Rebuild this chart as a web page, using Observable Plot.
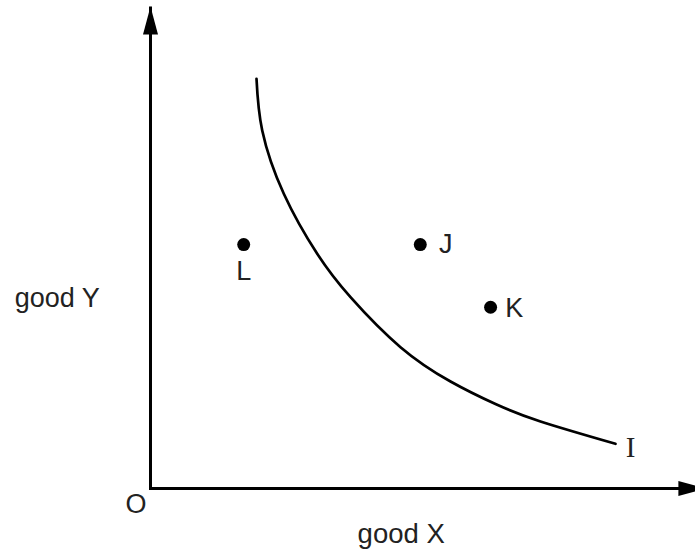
<!DOCTYPE html>
<html>
<head>
<meta charset="utf-8">
<script src="https://cdn.jsdelivr.net/npm/d3@7"></script>
<script src="https://cdn.jsdelivr.net/npm/@observablehq/plot@0.6"></script>
<style>
  html, body { margin: 0; padding: 0; background: #fff; }
  #chart svg { display: block; }
</style>
</head>
<body>
<div id="chart"></div>
<script>
// Indifference curve I (good X vs good Y)
const curveX = [1.945, 2.050, 2.446, 3.059, 3.670, 4.587, 5.505, 6.330, 7.156, 8.532];
const curveY = [8.500, 7.427, 6.114, 4.869, 3.969, 2.932, 2.220, 1.753, 1.390, 0.927];
const curveName = "I";

// Bundles
const pointNames = ["L", "J", "K"];
const pointX = [1.71, 4.95, 6.24];
const pointY = [5.06, 5.06, 3.76];

// Axis titles
const xTitle = "good X";
const yTitle = "good Y";
const originName = "O";
const xAxisEnd = 10.2;
const yAxisEnd = 10;

const curve = curveX.map((x, i) => ({x, y: curveY[i]}));
const points = pointNames.map((name, i) => ({name, x: pointX[i], y: pointY[i]}));

// filled slender arrowhead, tip at the anchor, pointing up
const arrowHead = {
  draw(context) {
    context.moveTo(0, 0);
    context.lineTo(-7.5, 28);
    context.lineTo(7.5, 28);
    context.closePath();
  }
};

const sans = "'Liberation Sans', Arial, Helvetica, sans-serif";
const ink = "#222";

const chart = Plot.plot({
  width: 695,
  height: 552,
  marginLeft: 150,
  marginRight: 0,
  marginTop: 6,
  marginBottom: 64,
  x: {domain: [0, 10], axis: null},
  y: {domain: [0, 10], axis: null},
  style: {fontFamily: sans, background: "#fff"},
  marks: [
    // axes
    Plot.link([{x1: 0, y1: 0, x2: 0, y2: yAxisEnd}], {x1: "x1", y1: "y1", x2: "x2", y2: "y2", stroke: "#000", strokeWidth: 3}),
    Plot.link([{x1: 0, y1: 0, x2: xAxisEnd, y2: 0}], {x1: "x1", y1: "y1", x2: "x2", y2: "y2", stroke: "#000", strokeWidth: 3, strokeLinecap: "square"}),
    Plot.dot([{x: 0, y: yAxisEnd}], {x: "x", y: "y", symbol: arrowHead, fill: "#000", stroke: null, rotate: 0}),
    Plot.dot([{x: xAxisEnd, y: 0}], {x: "x", y: "y", symbol: arrowHead, fill: "#000", stroke: null, rotate: 90}),
    // curve
    Plot.line(curve, {x: "x", y: "y", curve: "natural", stroke: "#000", strokeWidth: 2.7}),
    Plot.text([curve[curve.length - 1]], {x: "x", y: "y", text: () => curveName, dx: 15, dy: 12.7, lineAnchor: "bottom", textAnchor: "middle", fontFamily: "'Liberation Serif', 'Times New Roman', serif", fontSize: 29, fill: ink}),
    // points
    Plot.dot(points, {x: "x", y: "y", r: 6.5, fill: "#000", stroke: null}),
    Plot.text(points.filter(d => d.name === "L"), {x: "x", y: "y", text: "name", dy: 27, textAnchor: "middle", fontSize: 27, fill: ink}),
    Plot.text(points.filter(d => d.name === "J"), {x: "x", y: "y", text: "name", dx: 18.6, dy: 0, textAnchor: "start", fontSize: 27, fill: ink}),
    Plot.text(points.filter(d => d.name === "K"), {x: "x", y: "y", text: "name", dx: 14.6, dy: 1, textAnchor: "start", fontSize: 27, fill: ink}),
    // axis titles
    Plot.text([originName], {x: 0, y: 0, text: d => d, dx: -14.5, dy: 15.7, textAnchor: "middle", fontSize: 27, fill: ink}),
    Plot.text([yTitle], {x: -2.49, y: 3.76, text: d => d, textAnchor: "start", lineAnchor: "bottom", fontSize: 27, fill: ink}),
    Plot.text([xTitle], {x: 4.6, y: -1.14, text: d => d, textAnchor: "middle", lineAnchor: "bottom", fontSize: 27.5, fill: ink})
  ]
});

document.getElementById("chart").appendChild(chart);
</script>
</body>
</html>
